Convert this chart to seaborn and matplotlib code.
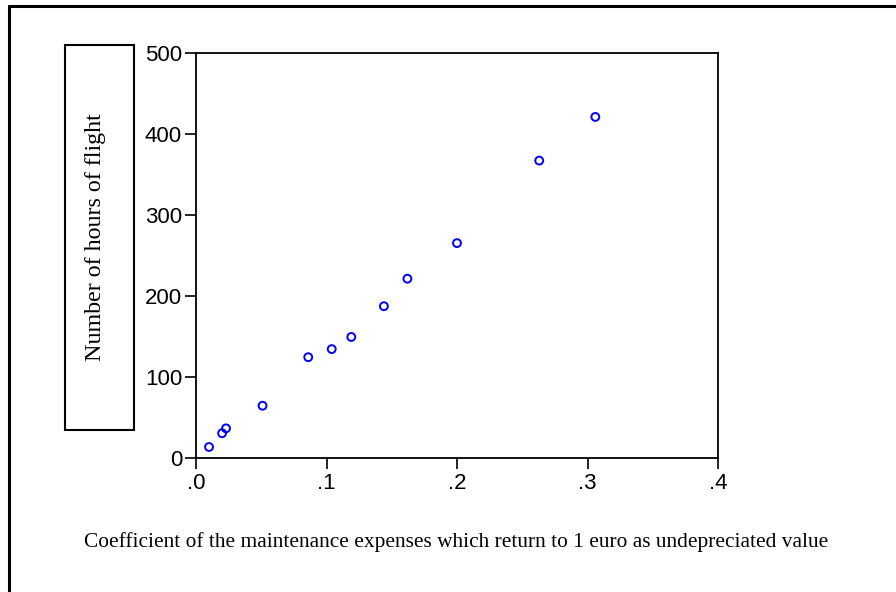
import matplotlib
matplotlib.use("Agg")
import matplotlib.pyplot as plt
from matplotlib.lines import Line2D
from matplotlib.patches import Rectangle
import pandas as pd
import seaborn as sns

# values
coef = [0.010, 0.020, 0.023, 0.051, 0.086, 0.104, 0.119, 0.144, 0.162, 0.200, 0.263, 0.306]
hours = [13, 30, 36, 64, 124, 134, 149, 187, 221, 265, 367, 421]
x_ticks = [0.0, 0.1, 0.2, 0.3, 0.4]
x_tick_labels = [".0", ".1", ".2", ".3", ".4"]
y_ticks = [0, 100, 200, 300, 400, 500]

df = pd.DataFrame({"coef": coef, "hours": hours})

sns.set_style("white")
plt.rcParams["font.family"] = ["Liberation Sans", "DejaVu Sans"]

W, H = 896, 592
fig = plt.figure(figsize=(W / 100, H / 100), dpi=100)
ax = fig.add_axes([196 / W, 1 - 457.5 / H, (718 - 196) / W, (457.5 - 53) / H])

sns.scatterplot(data=df, x="coef", y="hours", ax=ax, marker="o", s=32,
                facecolor="none", edgecolor="#0000ff", linewidth=1.4)

ax.set_xlim(0, 0.4)
ax.set_ylim(0, 500)
ax.set_xticks(x_ticks)
ax.set_xticklabels(x_tick_labels)
ax.set_yticks(y_ticks)
ax.tick_params(axis="both", direction="out", length=8, width=1.2,
               labelsize=16, color="black", labelcolor="black", pad=2,
               left=True, bottom=True)
ax.tick_params(axis="x", pad=3)
for sp in ax.spines.values():
    sp.set_visible(True)
    sp.set_color("black")
    sp.set_linewidth(1.3)
ax.set_xlabel("")
ax.set_ylabel("")

# axis titles in serif, the y one inside a box
fig.text(456 / W, 1 - 542 / H,
         "Coefficient of the maintenance expenses which return to 1 euro as undepreciated value",
         ha="center", va="center", fontsize=15.4, color="black",
         family=["Liberation Serif", "DejaVu Serif"])
fig.add_artist(Rectangle((64.5 / W, 1 - 430 / H), (133.5 - 64.5) / W, (430 - 44.5) / H,
                         transform=fig.transFigure, fill=False, edgecolor="black", linewidth=1.5))
fig.text(95.5 / W, 1 - 237 / H, "Number of hours of flight", rotation=90,
         ha="center", va="center", fontsize=17.3, color="black",
         family=["Liberation Serif", "DejaVu Serif"])

# outer frame (top and left edges)
fig.add_artist(Line2D([9 / W, 1], [1 - 5.5 / H, 1 - 5.5 / H], transform=fig.transFigure,
                      color="black", linewidth=2.2))
fig.add_artist(Line2D([9 / W, 9 / W], [0, 1 - 5.5 / H], transform=fig.transFigure,
                      color="black", linewidth=2.2))

fig.savefig("out.png", dpi=100)
